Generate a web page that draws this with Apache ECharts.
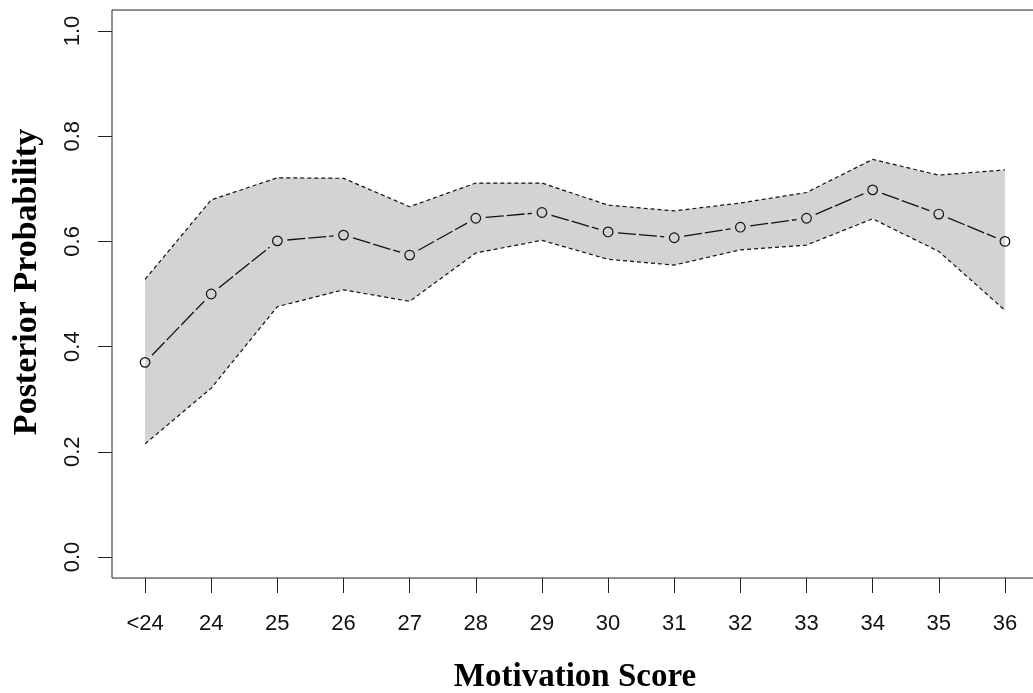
<!DOCTYPE html>
<html>
<head>
<meta charset="utf-8">
<script src="https://cdn.jsdelivr.net/npm/echarts@6/dist/echarts.min.js"></script>
<style>
html,body{margin:0;padding:0;background:#fff;}
#chart{width:1033px;height:693px;}
</style>
</head>
<body>
<div id="chart"></div>
<script>
// Data
var categories = ['<24','24','25','26','27','28','29','30','31','32','33','34','35','36'];
var meanProb  = [0.370,0.500,0.601,0.612,0.574,0.644,0.655,0.618,0.607,0.627,0.644,0.698,0.652,0.600];
var upperProb = [0.528,0.679,0.721,0.720,0.666,0.711,0.711,0.669,0.658,0.673,0.693,0.756,0.726,0.736];
var lowerProb = [0.215,0.321,0.476,0.508,0.486,0.578,0.602,0.566,0.555,0.584,0.593,0.643,0.581,0.469];
var yTicks = [0.0,0.2,0.4,0.6,0.8,1.0];

var chart = echarts.init(document.getElementById('chart'), null, {renderer:'canvas'});

var bandData = categories.map(function(c,i){ return [i, upperProb[i], lowerProb[i]]; });
var meanData = categories.map(function(c,i){ return [i, meanProb[i]]; });

var option = {
  backgroundColor:'#fff',
  animation:false,
  grid:{left:112, top:10, width:926, height:568, show:true, borderColor:'#222', borderWidth:1, backgroundColor:'transparent',
        containLabel:false, outerBoundsMode:'none'},
  xAxis:{
    type:'category', data:categories, boundaryGap:true,
    axisLine:{show:false, onZero:false},
    axisTick:{show:true, alignWithLabel:true, length:15, lineStyle:{color:'#222', width:1}},
    axisLabel:{margin:35, fontFamily:'Liberation Sans, Arial, sans-serif', fontSize:22, color:'#111', interval:0},
    splitLine:{show:false},
    name:'Motivation Score', nameLocation:'middle', nameGap:83,
    nameTextStyle:{fontFamily:'Liberation Serif, Times New Roman, serif', fontWeight:'bold', fontSize:33, color:'#000'}
  },
  yAxis:{
    type:'value', min:-0.04, max:1.04,
    axisLine:{show:false, onZero:false},
    axisTick:{show:true, length:14, customValues:yTicks, lineStyle:{color:'#222', width:1}},
    axisLabel:{customValues:yTicks, rotate:90, margin:28, fontFamily:'Liberation Sans, Arial, sans-serif', fontSize:22, color:'#111',
      formatter:function(v){ return Number(v).toFixed(1); }},
    splitLine:{show:false},
    name:'Posterior Probability', nameLocation:'middle', nameGap:68, nameRotate:90,
    nameTextStyle:{fontFamily:'Liberation Serif, Times New Roman, serif', fontWeight:'bold', fontSize:34, color:'#000', padding:[0,0,0,24]}
  },
  series:[
    {
      type:'custom', name:'band', data:bandData, z:1, silent:true,
      renderItem:function(params, api){
        if (params.dataIndex !== 0) return null;
        var pts = [];
        for (var i=0;i<upperProb.length;i++) pts.push(api.coord([i, upperProb[i]]));
        for (var j=lowerProb.length-1;j>=0;j--) pts.push(api.coord([j, lowerProb[j]]));
        return {type:'polygon', shape:{points:pts}, style:{fill:'#d3d3d3', stroke:null}};
      }
    },
    {
      type:'line', name:'upper', data:upperProb, symbol:'none', z:2, silent:true,
      lineStyle:{color:'#111', width:1.2, type:[4,3]}
    },
    {
      type:'line', name:'lower', data:lowerProb, symbol:'none', z:2, silent:true,
      lineStyle:{color:'#111', width:1.2, type:[4,3]}
    },
    {
      type:'custom', name:'mean', data:meanData, z:3, silent:true,
      renderItem:function(params, api){
        var i = params.dataIndex;
        var p = api.coord([i, meanProb[i]]);
        var children = [{
          type:'circle', shape:{cx:p[0], cy:p[1], r:4.8},
          style:{fill:null, stroke:'#111', lineWidth:1.2}
        }];
        if (i < meanProb.length-1) {
          var q = api.coord([i+1, meanProb[i+1]]);
          var dx=q[0]-p[0], dy=q[1]-p[1], L=Math.sqrt(dx*dx+dy*dy);
          var g = 10;
          children.push({
            type:'line',
            shape:{x1:p[0]+dx*g/L, y1:p[1]+dy*g/L, x2:q[0]-dx*g/L, y2:q[1]-dy*g/L},
            style:{stroke:'#111', lineWidth:1.3, lineDash:[18,3]}
          });
        }
        return {type:'group', children:children};
      }
    }
  ]
};
chart.setOption(option);
</script>
</body>
</html>
